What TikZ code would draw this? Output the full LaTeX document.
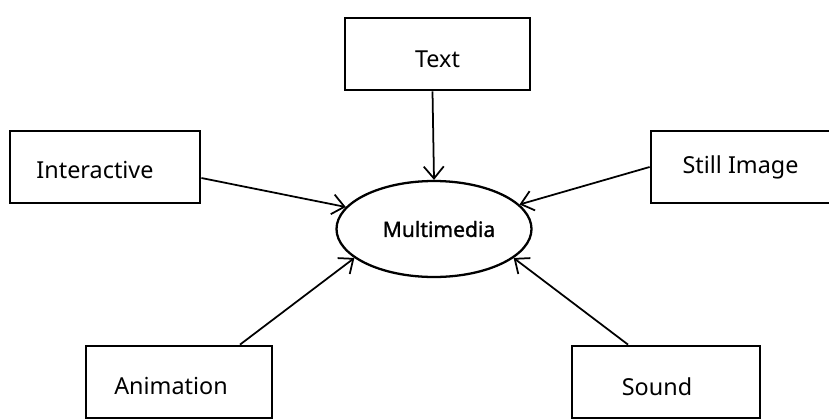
\documentclass[tikz,border=0pt]{standalone}
\usepackage{fontspec}
\setmainfont{Noto Sans}
\newfontfamily\hubfont{Noto Sans}[FakeBold=1.2]
\usetikzlibrary{shapes.geometric,arrows.meta}
\begin{document}
\begin{tikzpicture}[
  box/.style={draw,line width=1.6pt,minimum width=3.7cm,minimum height=1.44cm},
  every label/.style={font=\fontsize{13.3}{15}\selectfont},
  hub/.style={draw,ellipse,line width=1.3pt,minimum width=3.9cm,minimum height=1.92cm,font=\hubfont\fontsize{12}{14}\selectfont},
  link/.style={-{Straight Barb[length=2.4mm,width=4mm]},line width=1pt}
]
\useasboundingbox (0,0) rectangle (16.58,8.36);
%\draw[step=0.5cm,gray,very thin] (0,0) grid (16.5,8.5); %background grid

\node[hub] (mm) at (8.68,3.78) {\hspace*{0.2cm}Multimedia};

\node[box,label={[yshift=-0.1cm]center:Text}] (text) at (8.75,7.28) {};
\node[box,minimum width=3.8cm,label={[xshift=-0.2cm,yshift=-0.06cm]center:Interactive}] (inter) at (2.1,5.02) {};
\node[box,label={[xshift=-0.06cm]center:Still Image}] (still) at (14.87,5.02) {};
\node[box,minimum width=3.72cm,label={[xshift=-0.16cm,yshift=-0.08cm]center:Animation}] (anim) at (3.58,0.72) {};
\node[box,minimum width=3.76cm,label={[xshift=-0.18cm,yshift=-0.1cm]center:Sound}] (sound) at (13.32,0.72) {};

\draw[link] ([xshift=-0.1cm]text.south) -- (mm.north);
\draw[link] ([yshift=-0.22cm]inter.east) -- (mm.166.7);
\draw[link] (still.west) -- (mm.16.6);
\draw[link] ([xshift=1.22cm]anim.north) -- (mm.200.9);
\draw[link] ([xshift=-0.76cm]sound.north) -- (mm.340.7);

\end{tikzpicture}
\end{document}
